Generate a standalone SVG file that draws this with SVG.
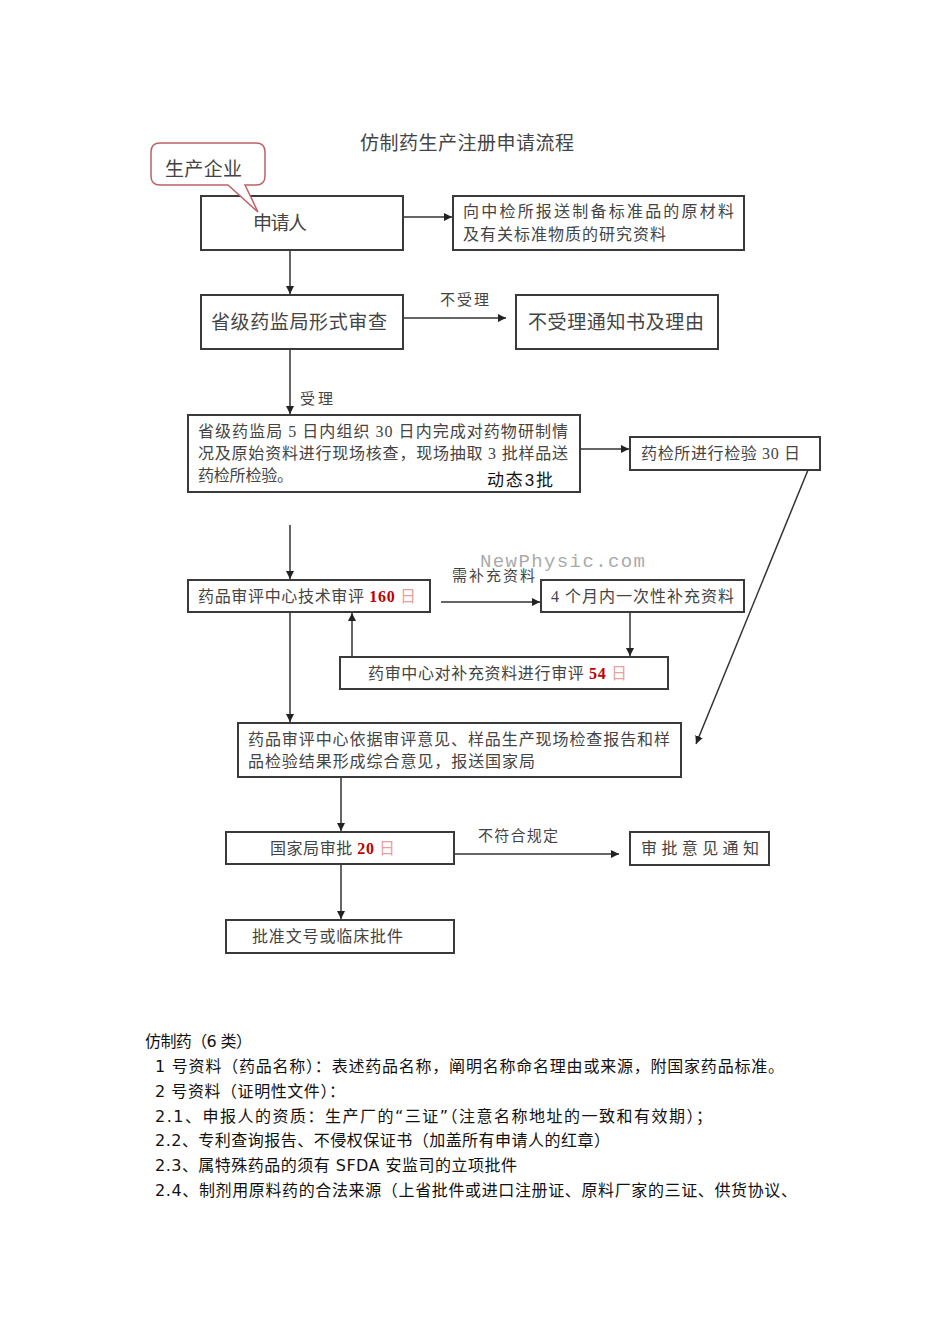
<svg xmlns="http://www.w3.org/2000/svg" width="950" height="1344" viewBox="0 0 950 1344">
<style>
.box{fill:#fff;stroke:#3a3a3a;stroke-width:2}
.t{font-family:"Liberation Serif","Noto Sans CJK SC",serif;fill:#444}
.big{font-size:19px}
.mid{font-size:16px}
.sm{font-size:15px}
.ln{stroke:#333;stroke-width:1.5;fill:none}
.red{fill:#c00000;font-weight:bold}
.pink{fill:#e8a0a0}
.body{font-family:"DejaVu Sans","Noto Sans CJK SC",sans-serif;font-size:16px;fill:#111}
</style>
<defs>
<marker id="ah" viewBox="0 0 10 10" refX="10" refY="5" markerWidth="8" markerHeight="8" markerUnits="userSpaceOnUse" orient="auto">
<path d="M0,0 L10,5 L0,10 z" fill="#222"/>
</marker>
</defs>
<rect width="950" height="1344" fill="#fff"/>
<text class="t big" x="360" y="150" textLength="214" lengthAdjust="spacing">仿制药生产注册申请流程</text>

<g id="connectors">
<line class="ln" x1="403" y1="217" x2="452" y2="217" marker-end="url(#ah)"/>
<line class="ln" x1="290" y1="250" x2="290" y2="294" marker-end="url(#ah)"/>
<line class="ln" x1="403" y1="318" x2="506" y2="318" marker-end="url(#ah)"/>
<text class="t sm" x="440" y="305" textLength="49" lengthAdjust="spacing">不受理</text>
<line class="ln" x1="290" y1="349" x2="290" y2="414" marker-end="url(#ah)"/>
<text class="t sm" x="300" y="404" textLength="33" lengthAdjust="spacing">受理</text>
<line class="ln" x1="580" y1="449" x2="629" y2="449" marker-end="url(#ah)"/>
<line class="ln" x1="808" y1="470" x2="696" y2="744" marker-end="url(#ah)"/>
<line class="ln" x1="290" y1="525" x2="290" y2="579" marker-end="url(#ah)"/>
<line class="ln" x1="441" y1="602" x2="540" y2="602" marker-end="url(#ah)"/>
<text class="t sm" x="452" y="581" textLength="83" lengthAdjust="spacing">需补充资料</text>
<line class="ln" x1="630" y1="612" x2="630" y2="656" marker-end="url(#ah)"/>
<line class="ln" x1="352" y1="657" x2="352" y2="613" marker-end="url(#ah)"/>
<line class="ln" x1="290" y1="612" x2="290" y2="722" marker-end="url(#ah)"/>
<line class="ln" x1="341" y1="777" x2="341" y2="831" marker-end="url(#ah)"/>
<line class="ln" x1="454" y1="854" x2="619" y2="854" marker-end="url(#ah)"/>
<text class="t sm" x="478" y="841" textLength="80" lengthAdjust="spacing">不符合规定</text>
<line class="ln" x1="341" y1="864" x2="341" y2="919" marker-end="url(#ah)"/>
</g>

<g id="applicant">
<rect class="box" x="201" y="196" width="202" height="54"/>
<text class="t big" x="253" y="230" textLength="54" lengthAdjust="spacing">申请人</text>
</g>
<g id="callout">
<path d="M160,143 H256 Q265,143 265,152 V176 Q265,185 256,185 H245 L258,212 L228,185 H160 Q151,185 151,176 V152 Q151,143 160,143 Z" fill="#fff" stroke="#c0606a" stroke-width="1.5"/>
<text class="t big" x="165" y="176" textLength="77" lengthAdjust="spacing">生产企业</text>
</g>
<g id="standard">
<rect class="box" x="453" y="196" width="291" height="54"/>
<text class="t mid" x="463" y="217" textLength="271" lengthAdjust="spacing">向中检所报送制备标准品的原材料</text>
<text class="t mid" x="463" y="240" textLength="203" lengthAdjust="spacing">及有关标准物质的研究资料</text>
</g>
<g id="formal-review">
<rect class="box" x="201" y="295" width="202" height="54"/>
<text class="t big" x="211" y="329" textLength="176" lengthAdjust="spacing">省级药监局形式审查</text>
</g>
<g id="reject">
<rect class="box" x="516" y="295" width="202" height="54"/>
<text class="t big" x="528" y="329" textLength="176" lengthAdjust="spacing">不受理通知书及理由</text>
</g>
<g id="onsite">
<rect class="box" x="188" y="415" width="392" height="77"/>
<text class="t mid" x="198" y="437" textLength="370" lengthAdjust="spacing">省级药监局 5 日内组织 30 日内完成对药物研制情</text>
<text class="t mid" x="198" y="459" textLength="370" lengthAdjust="spacing">况及原始资料进行现场核查，现场抽取 3 批样品送</text>
<text class="t mid" x="198" y="481" textLength="95" lengthAdjust="spacing">药检所检验。</text>
<text x="487" y="486" font-family="Liberation Sans,'Noto Sans CJK SC',sans-serif" font-size="17" fill="#111" textLength="66" lengthAdjust="spacing">动态3批</text>
</g>
<g id="lab-test">
<rect class="box" x="630" y="437" width="190" height="33"/>
<text class="t mid" x="641" y="459" textLength="159" lengthAdjust="spacing">药检所进行检验 30 日</text>
</g>
<text x="480" y="567" font-family="'Liberation Mono',monospace" font-size="19" fill="#aaa" textLength="165" lengthAdjust="spacing">NewPhysic.com</text>
<g id="tech-review">
<rect class="box" x="188" y="580" width="242" height="32"/>
<text class="t mid" x="198" y="602" textLength="218" lengthAdjust="spacing">药品审评中心技术审评 <tspan class="red">160</tspan> <tspan class="pink">日</tspan></text>
</g>
<g id="supplement">
<rect class="box" x="541" y="580" width="203" height="32"/>
<text class="t mid" x="551" y="602" textLength="183" lengthAdjust="spacing">4 个月内一次性补充资料</text>
</g>
<g id="supp-review">
<rect class="box" x="340" y="657" width="328" height="32"/>
<text class="t mid" x="368" y="679" textLength="259" lengthAdjust="spacing">药审中心对补充资料进行审评 <tspan class="red">54</tspan> <tspan class="pink">日</tspan></text>
</g>
<g id="opinion">
<rect class="box" x="238" y="723" width="443" height="54"/>
<text class="t mid" x="248" y="745" textLength="422" lengthAdjust="spacing">药品审评中心依据审评意见、样品生产现场检查报告和样</text>
<text class="t mid" x="248" y="767" textLength="287" lengthAdjust="spacing">品检验结果形成综合意见，报送国家局</text>
</g>
<g id="approval">
<rect class="box" x="226" y="832" width="228" height="32"/>
<text class="t mid" x="270" y="854" textLength="125" lengthAdjust="spacing">国家局审批 <tspan class="red">20</tspan> <tspan class="pink">日</tspan></text>
</g>
<g id="notice">
<rect class="box" x="630" y="832" width="139" height="33"/>
<text class="t mid" x="641" y="854" textLength="118" lengthAdjust="spacing">审批意见通知</text>
</g>
<g id="license">
<rect class="box" x="226" y="920" width="228" height="33"/>
<text class="t mid" x="252" y="942" textLength="151" lengthAdjust="spacing">批准文号或临床批件</text>
</g>

<g id="notes">
<text class="body" x="145" y="1047" textLength="107" lengthAdjust="spacing">仿制药（6 类）</text>
<text class="body" x="155" y="1072" textLength="629" lengthAdjust="spacing">1 号资料（药品名称）：表述药品名称，阐明名称命名理由或来源，附国家药品标准。</text>
<text class="body" x="155" y="1097" textLength="190" lengthAdjust="spacing">2 号资料（证明性文件）：</text>
<text class="body" x="155" y="1122" textLength="557" lengthAdjust="spacing">2.1、申报人的资质：生产厂的“三证”（注意名称地址的一致和有效期）；</text>
<text class="body" x="155" y="1146" textLength="455" lengthAdjust="spacing">2.2、专利查询报告、不侵权保证书（加盖所有申请人的红章）</text>
<text class="body" x="155" y="1171" textLength="362" lengthAdjust="spacing">2.3、属特殊药品的须有 SFDA 安监司的立项批件</text>
<text class="body" x="155" y="1196" textLength="642" lengthAdjust="spacing">2.4、制剂用原料药的合法来源（上省批件或进口注册证、原料厂家的三证、供货协议、</text>
</g>
</svg>
